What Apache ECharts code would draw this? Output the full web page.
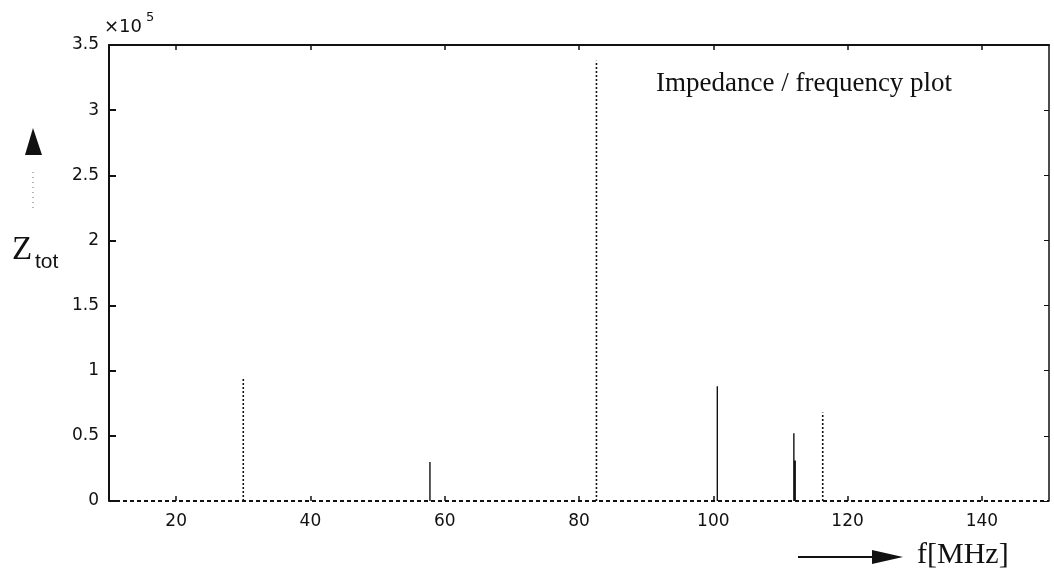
<!DOCTYPE html>
<html>
<head>
<meta charset="utf-8">
<script src="https://cdn.jsdelivr.net/npm/echarts@6/dist/echarts.min.js"></script>
<style>
  html, body { margin: 0; padding: 0; background: #fff; }
  #chart { width: 1054px; height: 571px; }
</style>
</head>
<body>
<div id="chart"></div>
<script>
// Resonance peaks of the total impedance, in units of 10^5 ohm
const dottedFreq = [30.0, 82.6, 116.3];      // MHz
const dottedZ    = [0.94, 3.38, 0.68];
const solidFreq  = [57.8, 100.6, 112.0, 112.2];
const solidZ     = [0.30, 0.88, 0.52, 0.31];

const xTicks = [20, 40, 60, 80, 100, 120, 140];
const xRange = [10, 150];
const yRange = [0, 3.5];

// Each peak becomes its own vertical stroke from the baseline; a null breaks the path between peaks
function spikes(freqs, values) {
  const pts = [];
  freqs.forEach((f, i) => {
    pts.push([f, 0], [f, values[i]], [null, null]);
  });
  return pts;
}

const chart = echarts.init(document.getElementById('chart'));
const ink = '#111';
const tickFont = { color: ink, fontFamily: 'DejaVu Sans', fontSize: 17 };

chart.setOption({
  animation: false,
  backgroundColor: '#fff',
  grid: { left: 109, right: 5, top: 45, bottom: 70 },
  xAxis: [
    {
      type: 'value', min: xRange[0], max: xRange[1],
      axisLine: { show: false, onZero: false },
      axisTick: { show: true, inside: true, length: 5, customValues: xTicks, lineStyle: { color: ink, width: 1.5 } },
      axisLabel: { customValues: xTicks, margin: 12, ...tickFont },
      splitLine: { show: false }
    },
    {
      type: 'value', position: 'top', min: xRange[0], max: xRange[1],
      axisLine: { onZero: false, lineStyle: { color: ink, width: 2 } },
      axisTick: { inside: true, length: 5, customValues: xTicks, lineStyle: { color: ink, width: 1.5 } },
      axisLabel: { show: false },
      splitLine: { show: false }
    }
  ],
  yAxis: [
    {
      type: 'value', min: yRange[0], max: yRange[1], interval: 0.5,
      axisLine: { onZero: false, lineStyle: { color: ink, width: 2 } },
      axisTick: { inside: true, length: 7, lineStyle: { color: ink, width: 2 } },
      axisLabel: { margin: 10, ...tickFont },
      splitLine: { show: false }
    },
    {
      type: 'value', position: 'right', min: yRange[0], max: yRange[1], interval: 0.5,
      axisLine: { onZero: false, lineStyle: { color: ink, width: 1.5 } },
      axisTick: { inside: true, length: 5, lineStyle: { color: ink, width: 1 } },
      axisLabel: { show: false },
      splitLine: { show: false }
    }
  ],
  series: [
    {
      // dotted zero line along the bottom of the frame
      type: 'line', data: [[xRange[0], 0], [xRange[1], 0]],
      showSymbol: false, silent: true, z: 1,
      lineStyle: { color: ink, width: 2, type: [4, 3] }
    },
    {
      type: 'line', data: spikes(dottedFreq, dottedZ), connectNulls: false,
      showSymbol: false, silent: true,
      lineStyle: { color: ink, width: 1.6, type: [2, 2] }
    },
    {
      type: 'line', data: spikes(solidFreq, solidZ), connectNulls: false,
      showSymbol: false, silent: true,
      lineStyle: { color: ink, width: 1.4 }
    }
  ],
  graphic: [
    // axis multiplier
    { type: 'text', left: 104, top: 18, style: { text: '×10', fill: ink, font: '18px "DejaVu Sans"' } },
    { type: 'text', left: 146, top: 11, style: { text: '5', fill: ink, font: '13px "DejaVu Sans"' } },
    // in-plot title
    { type: 'text', left: 656, top: 70, style: { text: 'Impedance / frequency plot', fill: ink, font: '27px "Liberation Serif"' } },
    // y quantity with upward arrow
    { type: 'polygon', shape: { points: [[33, 128], [25, 155], [42, 155]] }, style: { fill: ink } },
    { type: 'line', shape: { x1: 33, y1: 172, x2: 33, y2: 212 }, style: { stroke: '#666', lineWidth: 1, lineDash: [1, 4] } },
    { type: 'text', left: 12, top: 234, style: { text: 'Z', fill: ink, font: '33px "Liberation Serif"' } },
    { type: 'text', left: 35, top: 252, style: { text: 'tot', fill: ink, font: '21px "Liberation Sans"' } },
    // x quantity with rightward arrow
    { type: 'line', shape: { x1: 798, y1: 557, x2: 880, y2: 557 }, style: { stroke: ink, lineWidth: 2 } },
    { type: 'polygon', shape: { points: [[903, 557], [872, 550], [872, 564]] }, style: { fill: ink } },
    { type: 'text', left: 917, top: 540, style: { text: 'f[MHz]', fill: ink, font: '30px "Liberation Serif"' } }
  ]
});
</script>
</body>
</html>
